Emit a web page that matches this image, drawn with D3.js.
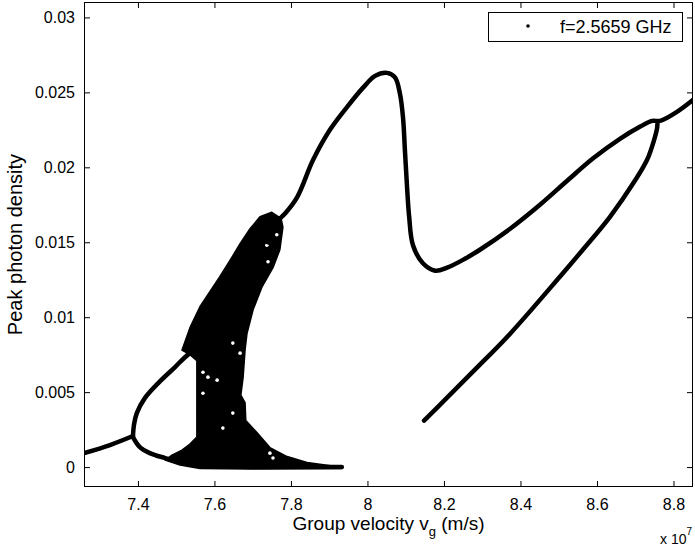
<!DOCTYPE html>
<html>
<head>
<meta charset="utf-8">
<script src="https://cdn.jsdelivr.net/npm/d3@7"></script>
<style>
  body { margin: 0; background: #fff; }
  text { font-family: "Liberation Sans", Arial, Helvetica, sans-serif; fill: #000; }
</style>
</head>
<body>
<svg id="chart" width="695" height="553"></svg>
<script>
// Bifurcation diagram: peak photon density vs group velocity (x in units of 1e7 m/s)
const xDomain = [7.259, 8.851];
const yDomain = [-0.00133, 0.03103];
const xTicks = [7.4, 7.6, 7.8, 8.0, 8.2, 8.4, 8.6, 8.8];
const xTickLabels = ["7.4", "7.6", "7.8", "8", "8.2", "8.4", "8.6", "8.8"];
const yTicks = [0, 0.005, 0.01, 0.015, 0.02, 0.025, 0.03];
const yTickLabels = ["0", "0.005", "0.01", "0.015", "0.02", "0.025", "0.03"];
const legendLabel = "f=2.5659 GHz";

// period-1 branch before the first period doubling
const leftBranch = [[7.259, 0.00093], [7.327, 0.00147], [7.387, 0.00207]];

// period-2 loop: upper and lower branches
const upperLoop = [[7.387, 0.00207], [7.3895, 0.0028], [7.397, 0.0036], [7.418, 0.0046],
  [7.458, 0.00573], [7.497, 0.00667], [7.523, 0.00733], [7.549, 0.00787]];
const lowerLoop = [[7.387, 0.0020], [7.405, 0.00133], [7.431, 0.00093], [7.471, 0.0006],
  [7.510, 0.00033], [7.562, 0.00013], [7.641, 0.00003], [7.75, 0.0], [7.933, 0.0]];

// outline of the chaotic band
const chaosOutline = [[7.554, 0.0020], [7.554, 0.0071], [7.536, 0.0075], [7.515, 0.0078],
  [7.536, 0.0093], [7.562, 0.0107], [7.588, 0.0117], [7.614, 0.0127], [7.641, 0.0138],
  [7.667, 0.0149], [7.693, 0.0159], [7.719, 0.0167], [7.750, 0.0170], [7.774, 0.0166],
  [7.779, 0.0160], [7.771, 0.0145], [7.753, 0.0133], [7.724, 0.0120], [7.701, 0.0105],
  [7.685, 0.0089], [7.680, 0.0078], [7.675, 0.0060], [7.669, 0.0048], [7.680, 0.0043],
  [7.682, 0.0031], [7.711, 0.0023], [7.745, 0.0013], [7.790, 0.0007], [7.842, 0.0003],
  [7.928, 0.0000], [7.933, -0.0001], [7.693, -0.00013], [7.562, -0.0001], [7.510, 0.00013],
  [7.471, 0.00047], [7.489, 0.0008], [7.515, 0.00113], [7.536, 0.00153]];

// unvisited spots inside the chaotic band
const chaosGaps = [[7.570, 0.00633], [7.583, 0.0060], [7.607, 0.0058], [7.570, 0.00493],
  [7.648, 0.00827], [7.667, 0.0076], [7.648, 0.0036], [7.622, 0.0026], [7.745, 0.00093],
  [7.753, 0.0006], [7.740, 0.0137], [7.763, 0.0155], [7.737, 0.0148]];

// branch leaving the chaotic band, over the hump and on to the right edge
const upperBranch = [[7.740, 0.0150], [7.761, 0.0163], [7.784, 0.0169], [7.816, 0.0180],
  [7.858, 0.0205], [7.902, 0.0225], [7.946, 0.0240], [7.988, 0.0253], [8.020, 0.0261],
  [8.051, 0.0263], [8.072, 0.0260], [8.085, 0.0249], [8.093, 0.0233], [8.098, 0.0211],
  [8.103, 0.0189], [8.109, 0.0167], [8.119, 0.0148], [8.145, 0.0136], [8.177, 0.0131],
  [8.208, 0.0133], [8.255, 0.0139], [8.294, 0.0145], [8.373, 0.0159], [8.451, 0.0175],
  [8.522, 0.0191], [8.590, 0.0206], [8.660, 0.0219], [8.712, 0.0227], [8.744, 0.0231],
  [8.765, 0.0231], [8.809, 0.0237], [8.856, 0.0246]];

// lower branch meeting the upper one near 8.75
const lowerBranch = [[8.148, 0.0031], [8.203, 0.0045], [8.281, 0.0065], [8.373, 0.0089],
  [8.503, 0.0127], [8.563, 0.0145], [8.634, 0.0167], [8.699, 0.0191], [8.731, 0.0205],
  [8.749, 0.0218], [8.757, 0.0226], [8.758, 0.0229]];

const box = { l: 84, r: 693, t: 2, b: 487 };
const svg = d3.select("#chart");

const x = d3.scaleLinear().domain(xDomain).range([box.l, box.r]);
const y = d3.scaleLinear().domain(yDomain).range([box.b, box.t]);

svg.append("defs").append("clipPath").attr("id", "plot")
  .append("rect").attr("x", box.l).attr("y", box.t)
  .attr("width", box.r - box.l).attr("height", box.b - box.t);

const plot = svg.append("g").attr("clip-path", "url(#plot)");

const curve = d3.line().x(d => x(d[0])).y(d => y(d[1])).curve(d3.curveCatmullRom.alpha(0.5));
const outline = d3.line().x(d => x(d[0])).y(d => y(d[1])).curve(d3.curveLinearClosed);

plot.append("path").attr("d", outline(chaosOutline))
  .attr("fill", "#000").attr("stroke", "#000").attr("stroke-width", 1.5)
  .attr("stroke-linejoin", "round");

plot.selectAll("circle.gap").data(chaosGaps).join("circle").attr("class", "gap")
  .attr("cx", d => x(d[0])).attr("cy", d => y(d[1])).attr("r", 1.8).attr("fill", "#fff");

[leftBranch, upperLoop, lowerLoop, upperBranch, lowerBranch].forEach(seg => {
  plot.append("path").attr("d", curve(seg))
    .attr("fill", "none").attr("stroke", "#000").attr("stroke-width", 4.5)
    .attr("stroke-linecap", "round").attr("stroke-linejoin", "round");
});

// axes with inward ticks on all four sides
const tickLen = -6;
const fontTick = 16;

const gx = svg.append("g").attr("transform", `translate(0,${box.b})`)
  .call(d3.axisBottom(x).tickValues(xTicks).tickFormat((d, i) => xTickLabels[i])
    .tickSizeInner(tickLen).tickSizeOuter(0).tickPadding(12));
const gy = svg.append("g").attr("transform", `translate(${box.l},0)`)
  .call(d3.axisLeft(y).tickValues(yTicks).tickFormat((d, i) => yTickLabels[i])
    .tickSizeInner(tickLen).tickSizeOuter(0).tickPadding(9));
const gt = svg.append("g").attr("transform", `translate(0,${box.t})`)
  .call(d3.axisTop(x).tickValues(xTicks).tickFormat("").tickSizeInner(tickLen).tickSizeOuter(0));
const gr = svg.append("g").attr("transform", `translate(${box.r},0)`)
  .call(d3.axisRight(y).tickValues(yTicks).tickFormat("").tickSizeInner(tickLen).tickSizeOuter(0));

[gx, gy, gt, gr].forEach(g => {
  g.select(".domain").remove();
  g.selectAll("line").attr("stroke", "#000").attr("stroke-width", 1);
  g.selectAll("text").attr("font-size", fontTick)
    .attr("font-family", "'Liberation Sans', Arial, Helvetica, sans-serif").attr("fill", "#000");
});

svg.append("rect").attr("x", box.l + 0.5).attr("y", box.t + 0.5)
  .attr("width", box.r - box.l - 1).attr("height", box.b - box.t - 1)
  .attr("fill", "none").attr("stroke", "#000").attr("stroke-width", 1);

// axis labels
const xl = svg.append("text").attr("x", (box.l + box.r) / 2).attr("y", 530)
  .attr("text-anchor", "middle").attr("font-size", 19);
xl.append("tspan").text("Group velocity v");
xl.append("tspan").attr("font-size", 13).attr("dy", 6).text("g");
xl.append("tspan").attr("dy", -6).text(" (m/s)");

const ex = svg.append("text").attr("x", 660).attr("y", 544).attr("font-size", 14);
ex.append("tspan").text("x 10");
ex.append("tspan").attr("font-size", 10).attr("dy", -9).text("7");

svg.append("text")
  .attr("transform", `translate(22,${(box.t + box.b) / 2}) rotate(-90)`)
  .attr("text-anchor", "middle").attr("font-size", 20)
  .text("Peak photon density");

// legend
const lg = svg.append("g");
lg.append("rect").attr("x", 488.5).attr("y", 12.5).attr("width", 194).attr("height", 29)
  .attr("fill", "#fff").attr("stroke", "#000").attr("stroke-width", 1);
lg.append("circle").attr("cx", 528).attr("cy", 26).attr("r", 1.8).attr("fill", "#000");
lg.append("text").attr("x", 560).attr("y", 33).attr("font-size", 18).text(legendLabel);
</script>
</body>
</html>
